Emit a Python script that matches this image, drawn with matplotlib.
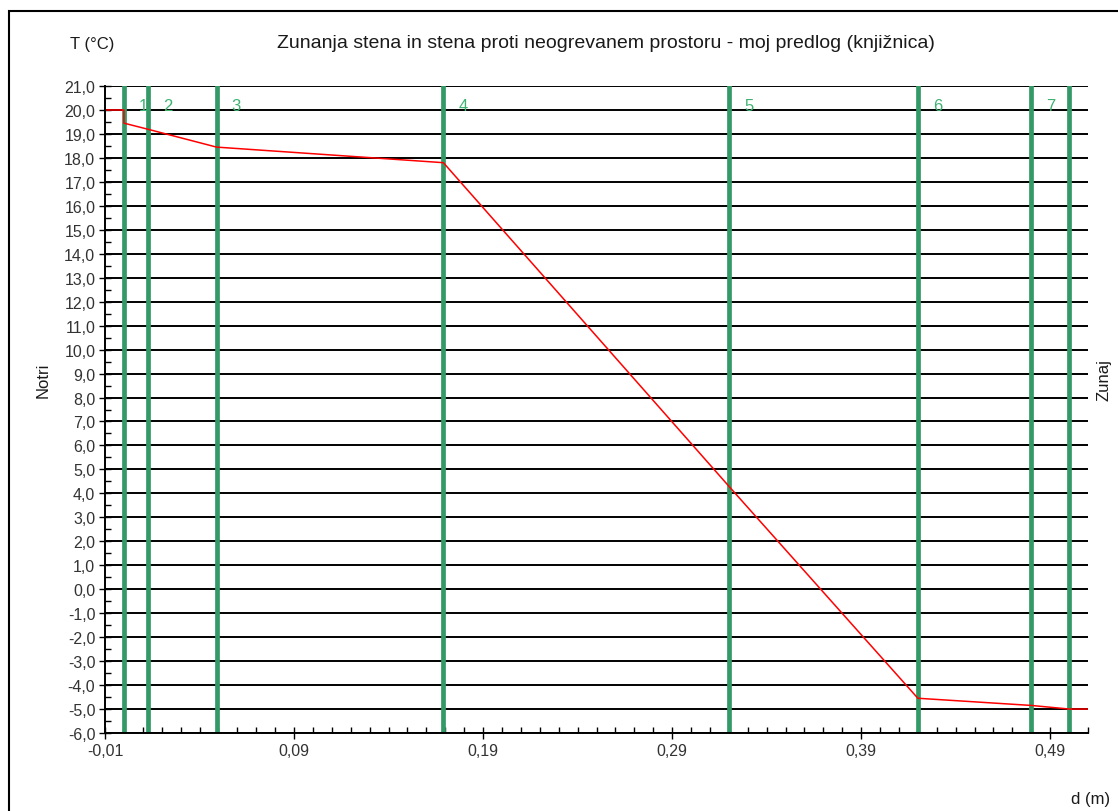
import numpy as np
import matplotlib.pyplot as plt
from matplotlib.patches import Rectangle
from matplotlib.ticker import MultipleLocator, FuncFormatter

plt.rcParams['font.family'] = ['Liberation Sans', 'DejaVu Sans']

# layer boundaries through the wall (m) and their numbers
layer_bounds = [0.0, 0.0125, 0.049, 0.169, 0.32, 0.42, 0.48, 0.50]
layer_labels = ['1', '2', '3', '4', '5', '6', '7']

# temperature profile: inside air -> outside air
d_profile = [-0.01, 0.0, 0.0, 0.0125, 0.049, 0.169, 0.32, 0.42, 0.48, 0.50, 0.51]
t_profile = [20.0, 20.0, 19.45, 19.2, 18.45, 17.8, 4.3, -4.55, -4.85, -5.0, -5.0]

title = 'Zunanja stena in stena proti neogrevanem prostoru - moj predlog (knjižnica)'

W, H = 1118, 812
fig = plt.figure(figsize=(W / 100, H / 100), dpi=100)
ax = fig.add_axes([105 / W, 1 - 734 / H, (1088 - 105) / W, (734 - 87) / H])

# outer frame
fig.patches.append(Rectangle((9 / W, -0.1), 1.2, 1 - 12 / H + 0.1, transform=fig.transFigure,
                             fill=False, edgecolor='black', linewidth=1.5, zorder=0))

ax.set_xlim(-0.01, 0.51)
ax.set_ylim(-6, 21)

for t in range(-6, 22):
    ax.axhline(t, color='black', linewidth=1.4, zorder=1)

for b in layer_bounds:
    ax.axvline(b, color='#339966', linewidth=3.4, zorder=2)

lab_color = '#3cb371'
for b, lab in zip(layer_bounds, layer_labels):
    ax.text(b + 0.0105, 20.2, lab, color=lab_color, fontsize=12,
            ha='center', va='center', zorder=3)

ax.plot(d_profile, t_profile, color='red', linewidth=1.1, zorder=4)

ax.xaxis.set_major_locator(MultipleLocator(0.1, offset=-0.01))
ax.xaxis.set_minor_locator(MultipleLocator(0.01))
ax.yaxis.set_major_locator(MultipleLocator(1))
ax.yaxis.set_minor_locator(MultipleLocator(0.5))
ax.xaxis.set_major_formatter(FuncFormatter(lambda v, p: f'{v:.2f}'.replace('.', ',')))
ax.yaxis.set_major_formatter(FuncFormatter(lambda v, p: f'{v:.1f}'.replace('.', ',')))

ax.tick_params(which='major', direction='inout', length=8, width=1.0,
               labelsize=11.5, labelcolor='#333333', pad=3)
ax.tick_params(which='minor', direction='in', length=4, width=1.0)

for s in ['top', 'right']:
    ax.spines[s].set_visible(False)
for s in ['left', 'bottom']:
    ax.spines[s].set_linewidth(1.4)
    ax.spines[s].set_zorder(5)

fig.text(606 / W, 1 - 44 / H, title, fontsize=14, color='#1a1a1a', ha='center', va='center')
fig.text(92 / W, 1 - 45 / H, 'T (°C)', fontsize=12, color='#1a1a1a', ha='center', va='center')
fig.text(43 / W, 1 - 380 / H, 'Notri', fontsize=12, color='#1a1a1a', ha='center', va='center', rotation=90)
fig.text(1104 / W, 1 - 380 / H, 'Zunaj', fontsize=12, color='#1a1a1a', ha='center', va='center', rotation=90)
fig.text(1091 / W, 1 - 800 / H, 'd (m)', fontsize=12, color='#1a1a1a', ha='center', va='center')

fig.savefig('out.png', dpi=100, facecolor='white')
